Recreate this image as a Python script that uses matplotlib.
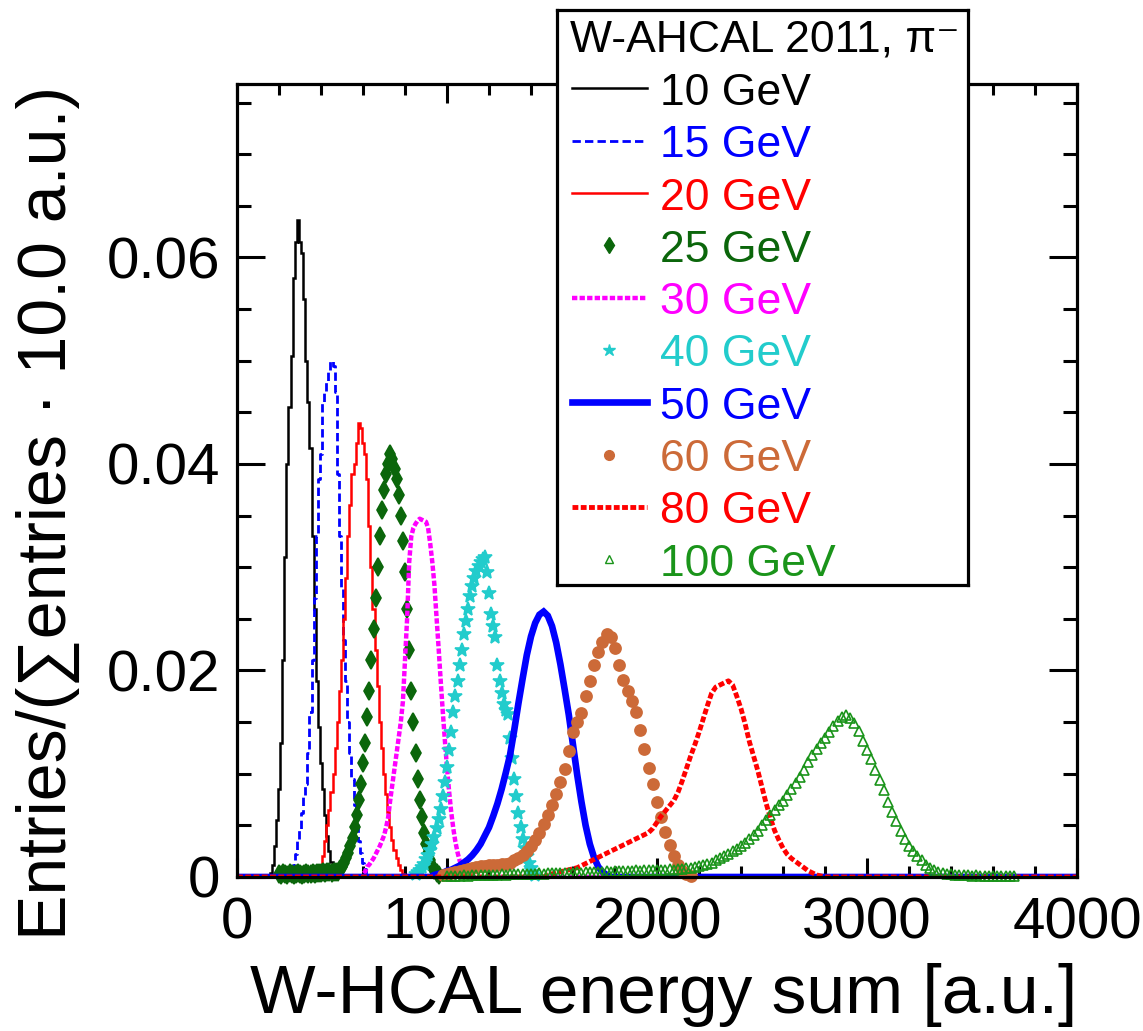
import numpy as np
import matplotlib.pyplot as plt
from matplotlib.ticker import MultipleLocator, FuncFormatter

plt.rcParams['font.family'] = ['Liberation Sans', 'DejaVu Sans']

# energy-sum axis range of all histograms
HIST_LO, HIST_HI = 0, 4000

energies = ['10', '15', '20', '25', '30', '40', '50', '60', '80', '100']

# normalised bin contents per beam energy: first bin centre, bin step, contents
e10_start, e10_step = 150, 10
e10_vals = [0.0, 0.0004, 0.0012, 0.003, 0.0055, 0.0085, 0.013, 0.021, 0.031, 0.040,
            0.0455, 0.0505, 0.058, 0.0615, 0.0636, 0.0615, 0.0604, 0.056, 0.050, 0.046,
            0.0415, 0.033, 0.026, 0.019, 0.0145, 0.011, 0.0085, 0.006, 0.004, 0.0025,
            0.0015, 0.0008, 0.0003, 0.0]

e15_start, e15_step = 250, 10
e15_vals = [0.0, 0.0005, 0.0012, 0.0022, 0.0035, 0.0046, 0.0062, 0.0078, 0.009, 0.012,
            0.016, 0.021, 0.027, 0.033, 0.0385, 0.041, 0.046, 0.047, 0.048, 0.049,
            0.050, 0.0495, 0.047, 0.039, 0.033, 0.028, 0.023, 0.019, 0.015, 0.012,
            0.0095, 0.007, 0.005, 0.0035, 0.0023, 0.0014, 0.0008, 0.0003, 0.0]

e20_start, e20_step = 380, 10
e20_vals = [0.0, 0.0005, 0.0012, 0.002, 0.0035, 0.005, 0.0065, 0.0082, 0.010, 0.0125,
            0.015, 0.018, 0.021, 0.025, 0.029, 0.033, 0.036, 0.039, 0.040, 0.042,
            0.044, 0.0435, 0.042, 0.041, 0.0385, 0.034, 0.030, 0.026, 0.022, 0.0185,
            0.015, 0.0125, 0.010, 0.008, 0.0063, 0.0048, 0.0036, 0.0026, 0.0018, 0.0012,
            0.0007, 0.0003, 0.0]

e25_start, e25_step = 200, 10
e25_vals = [0.0003, 0.0002, 0.0004, 0.0003, 0.0002, 0.0004, 0.0003, 0.0002, 0.0003, 0.0004,
            0.0003, 0.0002, 0.0003, 0.0004, 0.0003, 0.0003, 0.0004, 0.0003, 0.0004, 0.0004,
            0.0004, 0.0005, 0.0004, 0.0005, 0.0005, 0.0004, 0.0005, 0.0005,
            0.0005, 0.0008, 0.001, 0.0014, 0.0018, 0.0023, 0.003, 0.0038, 0.0048, 0.006,
            0.0075, 0.009, 0.011, 0.013, 0.0155, 0.018, 0.021, 0.024, 0.027, 0.030,
            0.033, 0.0355, 0.0375, 0.039, 0.040, 0.041, 0.0405, 0.0395, 0.0385, 0.037,
            0.035, 0.0325, 0.0295, 0.026, 0.022, 0.018, 0.015, 0.012, 0.0095, 0.0075,
            0.0058, 0.0043, 0.0032, 0.0023, 0.0016, 0.0011, 0.0007, 0.0004, 0.0002]

e30_start, e30_step = 600, 10
e30_vals = [0.0003, 0.0005, 0.001, 0.0012, 0.0015, 0.0018, 0.0022, 0.0026, 0.003, 0.0035,
            0.004, 0.0048, 0.0058, 0.0075, 0.009, 0.0105, 0.012, 0.0135, 0.015, 0.017,
            0.021, 0.025, 0.0305, 0.033, 0.0338, 0.0342, 0.0345, 0.0347, 0.0346, 0.0345,
            0.0344, 0.0338, 0.0323, 0.0305, 0.0283, 0.0252, 0.0222, 0.019, 0.016, 0.0132,
            0.0106, 0.0083, 0.0063, 0.0047, 0.0034, 0.0024, 0.0016, 0.001, 0.0006, 0.0003,
            0.0]

e40_start, e40_step = 850, 10
e40_vals = [0.0003, 0.0005, 0.0007, 0.001, 0.0013, 0.0017, 0.0021, 0.0026, 0.0032, 0.0039,
            0.0047, 0.0056, 0.0066, 0.0078, 0.0092, 0.0107, 0.0123, 0.014, 0.016, 0.0175,
            0.019, 0.0205, 0.022, 0.0235, 0.0248, 0.026, 0.0272, 0.0282, 0.029, 0.0296,
            0.0301, 0.0305, 0.0308, 0.031, 0.0295, 0.0275, 0.0255, 0.0243, 0.0232, 0.0205,
            0.019, 0.0178, 0.0168, 0.0162, 0.0158, 0.0135, 0.0115, 0.0095, 0.0078, 0.0062,
            0.0048, 0.0037, 0.0028, 0.002, 0.0014, 0.0009, 0.0005, 0.0002]

e50_start, e50_step = 940, 20
e50_vals = [0.0002, 0.0003, 0.0004, 0.0006, 0.0007, 0.0009, 0.0011, 0.0014, 0.0017, 0.0021,
            0.0026, 0.0032, 0.004, 0.0048, 0.0059, 0.0071, 0.0085, 0.0101, 0.0118, 0.0142,
            0.0168, 0.0192, 0.0215, 0.0233, 0.0246, 0.0254, 0.0257, 0.0253, 0.0243, 0.0227,
            0.0206, 0.0182, 0.0157, 0.0128, 0.0099, 0.0073, 0.005, 0.0032, 0.0019, 0.001,
            0.0005, 0.0002, 0.0]

e60_start, e60_step = 980, 20
e60_vals = [0.0002, 0.0003, 0.0004, 0.0005, 0.0006, 0.0007, 0.0008, 0.0009, 0.0010, 0.0011,
            0.0011, 0.0012, 0.0012, 0.0012, 0.0013, 0.0013, 0.0014, 0.0016, 0.0018, 0.0021,
            0.0025, 0.003, 0.0036, 0.0043, 0.0051, 0.006, 0.007, 0.008, 0.0092, 0.0105,
            0.0122, 0.014, 0.015, 0.0159, 0.0175, 0.019, 0.0205, 0.0218, 0.0228, 0.0235,
            0.0232, 0.0222, 0.0205, 0.0191, 0.018, 0.017, 0.016, 0.0142, 0.0124, 0.0106,
            0.009, 0.0073, 0.0058, 0.0044, 0.0031, 0.002, 0.0012, 0.0006, 0.0003, 0.0001]

e80_start, e80_step = 1480, 20
e80_vals = [0.0002, 0.0003, 0.0004, 0.0005, 0.0006, 0.0007, 0.0008, 0.0009, 0.0011, 0.0013,
            0.0015, 0.0017, 0.0019, 0.0021, 0.0023, 0.0025, 0.0027, 0.0029, 0.0031, 0.0033,
            0.0035, 0.0037, 0.0039, 0.0041, 0.0043, 0.0047, 0.0053, 0.0059, 0.0064, 0.0069,
            0.0074, 0.0082, 0.0093, 0.0105, 0.0117, 0.0128, 0.014, 0.0153, 0.0166, 0.0178,
            0.0184, 0.0186, 0.0188, 0.019, 0.0186, 0.0175, 0.0163, 0.0148, 0.0131, 0.0117,
            0.0103, 0.0087, 0.0071, 0.0057, 0.0045, 0.0036, 0.0028, 0.0022, 0.0018, 0.0015,
            0.0012, 0.0009, 0.0006, 0.0004, 0.0002, 0.0001, 0.0]

e100_start, e100_step = 1000, 20
e100_vals = [0.0001, 0.0001, 0.0001, 0.0001, 0.0002, 0.0001, 0.0002, 0.0002, 0.0002, 0.0002,
             0.0002, 0.0002, 0.0002, 0.0003, 0.0002, 0.0003, 0.0003, 0.0003, 0.0003, 0.0003,
             0.0003, 0.0003, 0.0004, 0.0003, 0.0004, 0.0004, 0.0004, 0.0004, 0.0004, 0.0004,
             0.0004, 0.0005, 0.0004, 0.0005, 0.0005, 0.0005, 0.0005, 0.0005, 0.0006, 0.0005,
             0.0006, 0.0006, 0.0006, 0.0006, 0.0006, 0.0007, 0.0006, 0.0007, 0.0007, 0.0007,
             0.0007, 0.0007, 0.0007, 0.0008, 0.0007, 0.0008, 0.0008, 0.0009, 0.0009, 0.0010,
             0.0011, 0.0012, 0.0013, 0.0014, 0.0016, 0.0018, 0.0020, 0.0022, 0.0025, 0.0027,
             0.0030, 0.0033, 0.0037, 0.0041, 0.0045, 0.0050, 0.0055, 0.0060, 0.0065, 0.0070,
             0.0074, 0.0079, 0.0085, 0.0091, 0.0097, 0.0104, 0.0111, 0.0118, 0.0124, 0.0130,
             0.0135, 0.0140, 0.0146, 0.0151, 0.0155, 0.0157, 0.0154, 0.0149, 0.0141, 0.0132,
             0.0123, 0.0114, 0.0104, 0.0094, 0.0084, 0.0073, 0.0063, 0.0054, 0.0045, 0.0037,
             0.0030, 0.0025, 0.0020, 0.0016, 0.0012, 0.0009, 0.0007, 0.0005, 0.0004, 0.0003,
             0.0003, 0.0002, 0.0002, 0.0002, 0.0002, 0.0001, 0.0002, 0.0001, 0.0001, 0.0001,
             0.0001, 0.0001, 0.0001, 0.0001, 0.0001, 0.0001]

series = [(e10_start, e10_step, e10_vals), (e15_start, e15_step, e15_vals),
          (e20_start, e20_step, e20_vals), (e25_start, e25_step, e25_vals),
          (e30_start, e30_step, e30_vals), (e40_start, e40_step, e40_vals),
          (e50_start, e50_step, e50_vals), (e60_start, e60_step, e60_vals),
          (e80_start, e80_step, e80_vals), (e100_start, e100_step, e100_vals)]

# drawing style of each energy: colour, line style, line width, marker, marker size, steps
styles = [
    dict(color='black', ls='-', lw=1.8, marker=None, ms=0, steps=True),
    dict(color='#0000ff', ls=(0, (3, 1.5)), lw=2.0, marker=None, ms=0, steps=True),
    dict(color='#ff0000', ls='-', lw=1.8, marker=None, ms=0, steps=True),
    dict(color='#0b660b', ls='none', lw=0, marker='d', ms=9, steps=False),
    dict(color='#ff00ff', ls=(0, (1.2, 0.5)), lw=3.2, marker=None, ms=0, steps=False),
    dict(color='#22cccc', ls='none', lw=0, marker='*', ms=10, steps=False),
    dict(color='#0000ff', ls='-', lw=4.8, marker=None, ms=0, steps=False),
    dict(color='#cc6a38', ls='none', lw=0, marker='o', ms=8, steps=False),
    dict(color='#ff0000', ls=(0, (1.2, 0.5)), lw=3.5, marker=None, ms=0, steps=False),
    dict(color='#1a941a', ls='none', lw=0, marker='^', ms=7, steps=False),
]

W, H = 1143, 1031
fig = plt.figure(figsize=(W / 100, H / 100), dpi=100)
ax = fig.add_axes([237 / W, 1 - 877 / H, 840 / W, 793 / H])

for (start, step, vals), st in zip(series, styles):
    x = start + step * np.arange(len(vals))
    y = np.array(vals)
    if st['marker'] is None:
        # histogram line runs along zero over the whole range
        x = np.concatenate([[HIST_LO, start - step], x, [x[-1] + step, HIST_HI]])
        y = np.concatenate([[0, 0], y, [0, 0]])
        ax.plot(x, y, color=st['color'], ls=st['ls'], lw=st['lw'],
                drawstyle='steps-mid' if st['steps'] else 'default',
                solid_joinstyle='miter', dash_capstyle='butt')
    else:
        mfc = 'none' if st['marker'] == '^' else st['color']
        ax.plot(x, y, ls='none', marker=st['marker'], ms=st['ms'], mfc=mfc,
                mec=st['color'], mew=1.2, clip_on=False)

ax.set_xlim(HIST_LO, HIST_HI)
ax.set_ylim(0, 0.0768)
ax.xaxis.set_major_locator(MultipleLocator(1000))
ax.xaxis.set_minor_locator(MultipleLocator(200))
ax.yaxis.set_major_locator(MultipleLocator(0.02))
ax.yaxis.set_minor_locator(MultipleLocator(0.005))
ax.yaxis.set_major_formatter(FuncFormatter(lambda v, p: '0' if abs(v) < 1e-9 else f'{v:.2f}'))
ax.xaxis.set_major_formatter(FuncFormatter(lambda v, p: f'{v:.0f}'))

for s in ax.spines.values():
    s.set_linewidth(2.3)
ax.tick_params(which='both', direction='in', top=True, right=True, width=2.2,
               labelsize=42)
ax.tick_params(axis='x', which='major', length=14, pad=14)
ax.tick_params(axis='x', which='minor', length=8)
ax.tick_params(axis='y', which='major', length=20, pad=12)
ax.tick_params(axis='y', which='minor', length=10)

fig.text(1077 / W, 1 - 1013 / H, 'W-HCAL energy sum [a.u.]', fontsize=50,
         ha='right', va='baseline')
fig.text(48 / W, 1 - 86 / H, 'Entries/(∑entries · 10.0 a.u.)', fontsize=49,
         rotation=90, ha='center', va='top')

# legend box, laid out in pixel units
lx0, ly0, lx1, ly1 = 557, 10, 968, 585
leg = fig.add_axes([lx0 / W, 1 - ly1 / H, (lx1 - lx0) / W, (ly1 - ly0) / H])
leg.set_xlim(lx0, lx1)
leg.set_ylim(ly1, ly0)
leg.set_xticks([])
leg.set_yticks([])
leg.set_facecolor('white')
for s in leg.spines.values():
    s.set_linewidth(2.3)

leg.text(570, 52, 'W-AHCAL 2011, π⁻', fontsize=32, va='baseline', ha='left')
row0, row_step = 105, 52.3
for i, (e, st) in enumerate(zip(energies, styles)):
    base = row0 + row_step * i
    yc = base - 16.5
    if st['marker'] is None:
        leg.plot([572, 647], [yc, yc], color=st['color'], ls=st['ls'], lw=st['lw'],
                 dash_capstyle='butt')
    else:
        mfc = 'none' if st['marker'] == '^' else st['color']
        leg.plot([609], [yc], ls='none', marker=st['marker'], ms=st['ms'] - 1, mfc=mfc,
                 mec=st['color'], mew=1.0)
    leg.text(660, base, f'{e} GeV', fontsize=32, color=st['color'],
             va='baseline', ha='left')

fig.savefig('out.png', dpi=100)
